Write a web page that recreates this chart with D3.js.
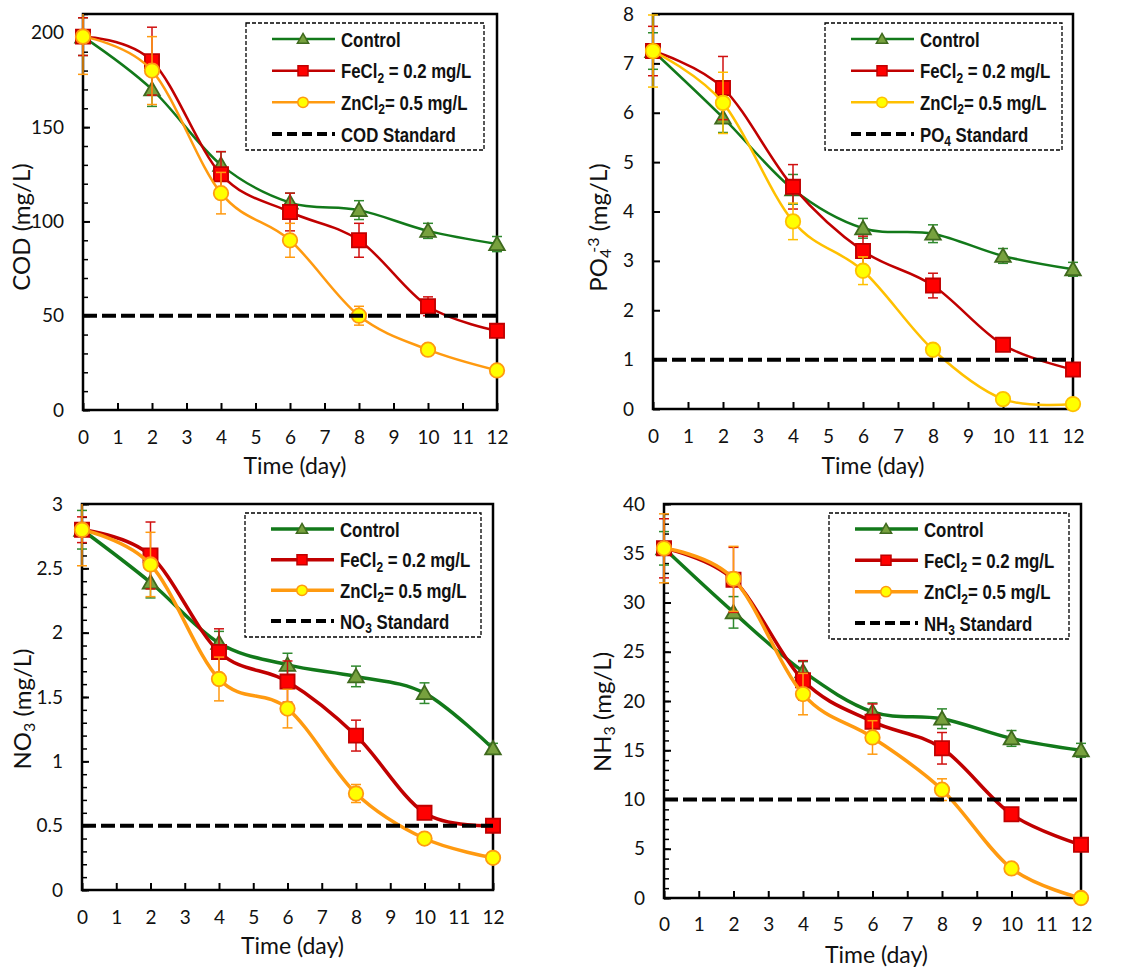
<!DOCTYPE html>
<meta charset="utf-8">
<script src="https://d3js.org/d3.v7.min.js"></script>
<style>
  body { margin: 0; background: #fff; }
  .tick text { font-family: Lato, "Open Sans", sans-serif; font-size: 19px; fill: #111; }
  .lg { font-family: "Liberation Sans", Arial, sans-serif; font-weight: bold; font-size: 21px; fill: #111; }
  .ttl { font-family: Lato, "Open Sans", sans-serif; font-size: 23px; fill: #111; }
  .yttl { font-family: Lato, "Open Sans", sans-serif; font-size: 24px; fill: #111; }
</style>
<div id="chart"></div>
<script>
// sampling days
var days = [0, 2, 4, 6, 8, 10, 12];

// COD (mg/L)
var codControl = [198, 170, 130, 110, 106, 95, 88];
var codControlErr = [10, 9, 7, 5, 5, 4, 4];
var codFe = [198, 185, 125, 105, 90, 55, 42];
var codFeErr = [10, 18, 12, 10, 9, 5, 2];
var codZn = [198, 180, 115, 90, 50, 32, 21];
var codZnErr = [20, 18, 11, 9, 5, 2, 1];
var codStandard = 50;

// PO4 (mg/L)
var po4Control = [7.25, 5.9, 4.45, 3.66, 3.55, 3.1, 2.83];
var po4ControlErr = [0.37, 0.3, 0.3, 0.2, 0.18, 0.15, 0.14];
var po4Fe = [7.25, 6.5, 4.5, 3.2, 2.5, 1.3, 0.8];
var po4FeErr = [0.5, 0.64, 0.45, 0.3, 0.25, 0.05, 0.05];
var po4Zn = [7.25, 6.2, 3.8, 2.8, 1.2, 0.2, 0.1];
var po4ZnErr = [0.73, 0.62, 0.37, 0.28, 0.05, 0.03, 0.03];
var po4Standard = 1;

// NO3 (mg/L)
var no3Control = [2.8, 2.39, 1.92, 1.75, 1.66, 1.53, 1.1];
var no3ControlErr = [0.15, 0.12, 0.09, 0.09, 0.08, 0.08, 0.04];
var no3Fe = [2.8, 2.6, 1.85, 1.62, 1.2, 0.6, 0.5];
var no3FeErr = [0.1, 0.26, 0.18, 0.16, 0.12, 0.03, 0.02];
var no3Zn = [2.8, 2.53, 1.64, 1.41, 0.75, 0.4, 0.25];
var no3ZnErr = [0.28, 0.25, 0.17, 0.15, 0.07, 0.02, 0.02];
var no3Standard = 0.5;

// NH3 (mg/L)
var nh3Control = [35.5, 29, 23, 18.9, 18.2, 16.2, 15];
var nh3ControlErr = [1.7, 1.6, 1, 0.9, 1, 0.8, 0.7];
var nh3Fe = [35.5, 32.3, 22.1, 17.9, 15.2, 8.5, 5.4];
var nh3FeErr = [3, 3.3, 2, 1.8, 1.6, 0.4, 0.3];
var nh3Zn = [35.5, 32.4, 20.7, 16.3, 11, 3, 0];
var nh3ZnErr = [3.5, 3.3, 2.1, 1.7, 1.1, 0.3, 0.2];
var nh3Standard = 10;

var W = 1143, H = 968;
var svg = d3.select("#chart").append("svg").attr("width", W).attr("height", H);

// series looks
var look = {
  control: { line: "#12791a", fill: "#77a13e", stroke: "#3f6a1e", err: "#2f8a2f", sym: d3.symbolTriangle, size: 105, lsize: 55 },
  fe: { line: "#c00000", fill: "#ff0000", stroke: "#c00000", err: "#d01010", sym: d3.symbolSquare, size: 200, lsize: 100 },
  zn: { line: "#ff9a10", fill: "#ffff00", stroke: "#ffa020", err: "#f59a1a", sym: d3.symbolCircle, size: 165, lsize: 85 }
};

var panels = [
  { id: "p1", left: 83, right: 497, top: 14, bottom: 410, ymax: 210, major: 50, minor: 10, lw: 2.5,
    control: codControl, controlErr: codControlErr, fe: codFe, feErr: codFeErr, zn: codZn, znErr: codZnErr, std: codStandard,
    znLine: "#ff9a10",
    legend: { x: 246, y: 23, w: 238, h: 127, stdLabel: [["COD Standard"]] },
    ytitle: [["COD (mg/L)"]], ytx: 30, yshift: 15, xty: 474, xshift: 5, xpad: 21 },
  { id: "p2", left: 653, right: 1073, top: 14, bottom: 409, ymax: 8, major: 1, minor: null, lw: 2.5,
    control: po4Control, controlErr: po4ControlErr, fe: po4Fe, feErr: po4FeErr, zn: po4Zn, znErr: po4ZnErr, std: po4Standard,
    znLine: "#ffc000",
    legend: { x: 825, y: 23, w: 237, h: 127, stdLabel: [["PO"], ["4", "sub"], [" Standard"]] },
    ytitle: [["PO"], ["4", "sub"], ["-3", "sup"], [" (mg/L)"]], ytx: 607, yshift: 16, xty: 474, xshift: 10, xpad: 21 },
  { id: "p3", left: 82, right: 493, top: 504, bottom: 890, ymax: 3, major: 0.5, minor: 0.1, lw: 3.5,
    control: no3Control, controlErr: no3ControlErr, fe: no3Fe, feErr: no3FeErr, zn: no3Zn, znErr: no3ZnErr, std: no3Standard,
    znLine: "#ff9a10",
    legend: { x: 245, y: 513, w: 236, h: 124, stdLabel: [["NO"], ["3", "sub"], [" Standard"]] },
    ytitle: [["NO"], ["3", "sub"], [" (mg/L)"]], ytx: 31, yshift: 12, xty: 954, xshift: 5, xpad: 21 },
  { id: "p4", left: 664, right: 1081, top: 504, bottom: 898, ymax: 40, major: 5, minor: 1, lw: 3.5,
    control: nh3Control, controlErr: nh3ControlErr, fe: nh3Fe, feErr: nh3FeErr, zn: nh3Zn, znErr: nh3ZnErr, std: nh3Standard,
    znLine: "#ff9a10",
    legend: { x: 829, y: 513, w: 240, h: 126, stdLabel: [["NH"], ["3", "sub"], [" Standard"]] },
    ytitle: [["NH"], ["3", "sub"], [" (mg/L)"]], ytx: 611, yshift: 11, xty: 963, xshift: 4, xpad: 20 }
];

// write text made of normal / sub / sup parts
function richText(sel, parts, subSize) {
  parts.forEach(function(p) {
    var t = sel.append("tspan").text(p[0]);
    if (p[1] === "sub") t.attr("baseline-shift", "-28%").style("font-size", subSize);
    if (p[1] === "sup") t.attr("baseline-shift", "50%").style("font-size", subSize).attr("dx", "-4");
  });
}

panels.forEach(function(p) {
  var g = svg.append("g");
  var x = d3.scaleLinear().domain([0, 12]).range([p.left, p.right]);
  var y = d3.scaleLinear().domain([0, p.ymax]).range([p.bottom, p.top]);

  g.append("clipPath").attr("id", "clip-" + p.id)
    .append("rect").attr("x", p.left - 10).attr("y", p.top).attr("width", p.right - p.left + 20).attr("height", p.bottom - p.top + 10);

  // minor ticks
  if (p.minor) {
    g.append("g").attr("transform", "translate(" + p.left + ",0)")
      .call(d3.axisLeft(y).ticks(Math.round(p.ymax / p.minor)).tickSize(-5).tickFormat(""))
      .call(function(a) { a.select(".domain").remove(); a.selectAll("line").attr("stroke-width", 1.5); });
  }
  var yTicks = d3.range(0, p.ymax + 1e-9, p.major);
  g.append("g").attr("transform", "translate(" + p.left + ",0)")
    .call(d3.axisLeft(y).tickValues(yTicks).tickSize(-7).tickPadding(19).tickFormat(d3.format("~g")))
    .call(function(a) { a.select(".domain").remove(); a.selectAll("line").attr("stroke-width", 2); });
  g.append("g").attr("transform", "translate(0," + p.bottom + ")")
    .call(d3.axisBottom(x).ticks(12).tickSize(-7).tickPadding(p.xpad))
    .call(function(a) { a.select(".domain").remove(); a.selectAll("line").attr("stroke-width", 2); });

  // frame
  g.append("rect").attr("x", p.left).attr("y", p.top).attr("width", p.right - p.left).attr("height", p.bottom - p.top)
    .attr("fill", "none").attr("stroke", "#000").attr("stroke-width", 2.5);

  var plot = g.append("g").attr("clip-path", "url(#clip-" + p.id + ")");
  var line = d3.line().x(function(d) { return x(d[0]); }).y(function(d) { return y(d[1]); })
    .curve(d3.curveCardinal.tension(0));

  ["control", "fe", "zn"].forEach(function(key) {
    var lk = look[key];
    var vals = p[key], errs = p[key + "Err"];
    var pts = days.map(function(d, i) { return [d, vals[i], errs[i]]; });
    var col = key === "zn" ? p.znLine : lk.line;
    var errCol = key === "zn" ? p.znLine : lk.err;
    plot.append("path").datum(pts).attr("d", line).attr("fill", "none")
      .attr("stroke", col).attr("stroke-width", p.lw);
    var eb = plot.append("g").selectAll("g").data(pts).enter().append("g")
      .attr("stroke", errCol).attr("stroke-width", 1.5);
    eb.append("line").attr("x1", function(d) { return x(d[0]); }).attr("x2", function(d) { return x(d[0]); })
      .attr("y1", function(d) { return y(d[1] - d[2]); }).attr("y2", function(d) { return y(d[1] + d[2]); });
    [1, -1].forEach(function(s) {
      eb.append("line").attr("x1", function(d) { return x(d[0]) - 5; }).attr("x2", function(d) { return x(d[0]) + 5; })
        .attr("y1", function(d) { return y(d[1] + s * d[2]); }).attr("y2", function(d) { return y(d[1] + s * d[2]); });
    });
    plot.append("g").selectAll("path").data(pts).enter().append("path")
      .attr("d", d3.symbol().type(lk.sym).size(lk.size))
      .attr("transform", function(d) { return "translate(" + x(d[0]) + "," + (y(d[1]) + (key === "control" ? 1.5 : 0)) + ")"; })
      .attr("fill", lk.fill).attr("stroke", key === "zn" ? p.znLine : lk.stroke).attr("stroke-width", 1.8);
  });

  // standard line
  plot.append("line").attr("x1", x(0)).attr("x2", x(12)).attr("y1", y(p.std)).attr("y2", y(p.std))
    .attr("stroke", "#000").attr("stroke-width", 4).attr("stroke-dasharray", "14,5");

  // legend
  var L = p.legend;
  var lg = g.append("g").attr("transform", "translate(" + L.x + "," + L.y + ")");
  lg.append("rect").attr("width", L.w).attr("height", L.h).attr("fill", "#fff")
    .attr("stroke", "#000").attr("stroke-width", 1.3).attr("stroke-dasharray", "4,2");
  var step = (L.h - 32) / 3;
  var rows = [
    { key: "control", label: [["Control"]] },
    { key: "fe", label: [["FeCl"], ["2", "sub"], [" = 0.2 mg/L"]] },
    { key: "zn", label: [["ZnCl"], ["2", "sub"], ["= 0.5 mg/L"]] },
    { key: "std", label: L.stdLabel }
  ];
  rows.forEach(function(r, i) {
    var ry = 16 + i * step;
    if (r.key === "std") {
      lg.append("line").attr("x1", 26).attr("x2", 89).attr("y1", ry).attr("y2", ry)
        .attr("stroke", "#000").attr("stroke-width", 4).attr("stroke-dasharray", "10,5");
    } else {
      var lk = look[r.key];
      var col = r.key === "zn" ? p.znLine : lk.line;
      lg.append("line").attr("x1", 26).attr("x2", 89).attr("y1", ry).attr("y2", ry)
        .attr("stroke", col).attr("stroke-width", p.lw);
      lg.append("path").attr("d", d3.symbol().type(lk.sym).size(lk.lsize))
        .attr("transform", "translate(57," + (ry + (r.key === "control" ? 1 : 0)) + ")")
        .attr("fill", lk.fill).attr("stroke", r.key === "zn" ? p.znLine : lk.stroke).attr("stroke-width", 1.5);
    }
    // condensed bold label
    var t = lg.append("text").attr("class", "lg")
      .attr("transform", "translate(95," + (ry + 7.5) + ") scale(0.8,1)");
    richText(t, r.label, "15px");
  });

  // axis titles
  g.append("text").attr("class", "ttl").attr("text-anchor", "middle")
    .attr("x", (p.left + p.right) / 2 + p.xshift).attr("y", p.xty).text("Time (day)");
  var yt = g.append("text").attr("class", "yttl").attr("text-anchor", "middle")
    .attr("transform", "translate(" + p.ytx + "," + ((p.top + p.bottom) / 2 + p.yshift) + ") rotate(-90)");
  richText(yt, p.ytitle, "16px");
});
</script>
